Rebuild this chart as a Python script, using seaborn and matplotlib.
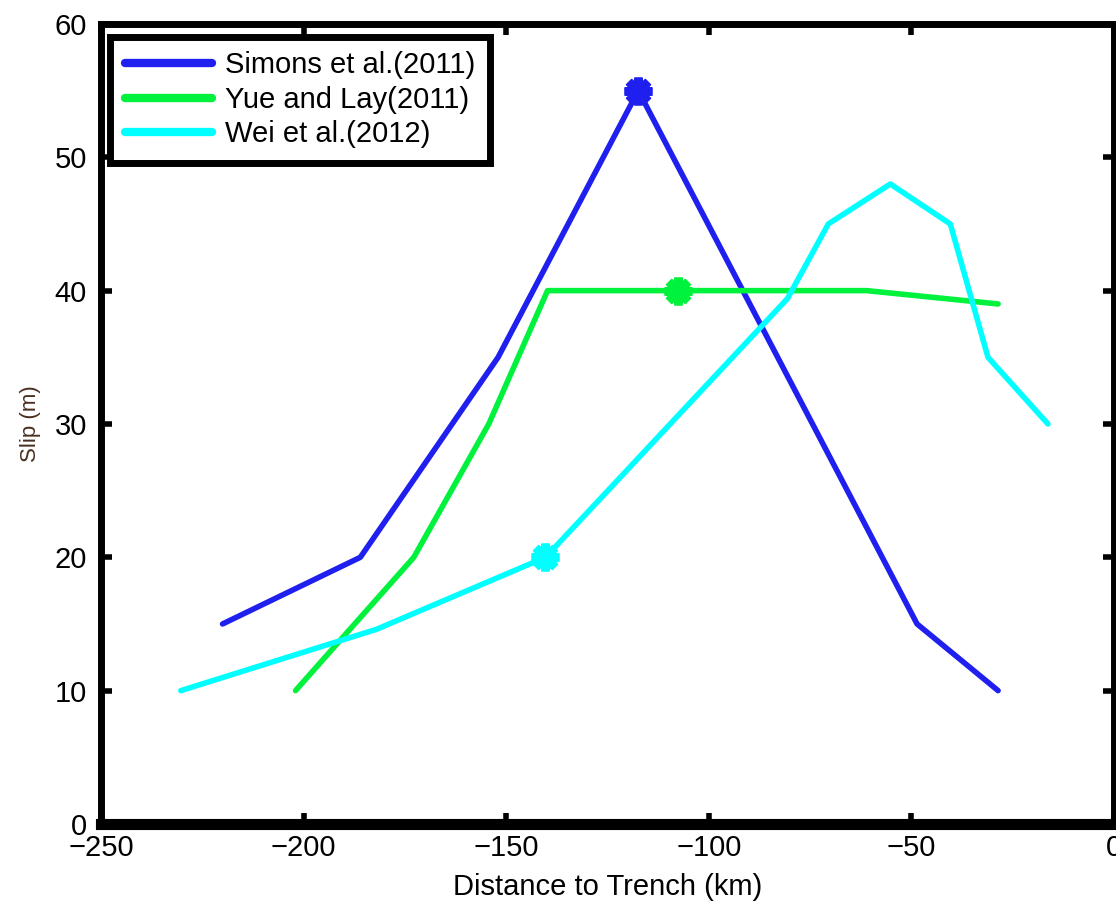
import matplotlib
matplotlib.use("Agg")
import matplotlib.pyplot as plt
import seaborn as sns

# %% data
simons_x = [-220, -186, -152, -117.4, -48.6, -28.6]
simons_y = [15, 20, 35, 55, 15, 10]

yue_x = [-202, -172.8, -154.3, -139.8, -107.5, -61, -28.6]
yue_y = [10, 20, 30, 40, 40, 40, 39]

wei_x = [-230.3, -182, -140.3, -80.6, -70.5, -55.2, -40.4, -31.1, -16.3]
wei_y = [10, 14.6, 20, 39.4, 45, 48, 45, 35, 30]

labels = ["Simons et al.(2011)", "Yue and Lay(2011)", "Wei et al.(2012)"]
colors = ["#1f1ff0", "#00f23c", "#00ffff"]

# marked points on each model
mark_x = [-117.4, -107.5, -140.3]
mark_y = [55, 40, 20]

x_ticks = [-250, -200, -150, -100, -50, 0]
y_ticks = [0, 10, 20, 30, 40, 50, 60]

# %% style
sns.set_style("ticks")
plt.rcParams["font.family"] = ["Liberation Sans", "DejaVu Sans"]
plt.rcParams["text.color"] = "black"
plt.rcParams["xtick.color"] = "black"
plt.rcParams["ytick.color"] = "black"
plt.rcParams["axes.labelcolor"] = "black"

fig = plt.figure(figsize=(11.16, 9.01), dpi=100)
ax = fig.add_axes([0.0905, 0.0855, 0.9077, 0.8879])

series = [(simons_x, simons_y), (yue_x, yue_y), (wei_x, wei_y)]
for (xs, ys), lab, col in zip(series, labels, colors):
    sns.lineplot(x=xs, y=ys, ax=ax, color=col, linewidth=4, sort=False,
                 estimator=None, label=lab)

for mx, my, col in zip(mark_x, mark_y, colors):
    ax.plot(mx, my, marker=(8, 2, 0), markersize=20, markeredgewidth=6,
            color=col, zorder=5)

ax.set_xlim(-250, 0)
ax.set_ylim(0, 60)
ax.set_xticks(x_ticks)
ax.set_yticks(y_ticks)
ax.set_xlabel("Distance to Trench (km)", fontsize=21, labelpad=8)
ax.set_ylabel("Slip (m)", fontsize=16, color="#4a2e1e", labelpad=10)

ax.tick_params(direction="in", length=8, width=4, labelsize=21,
               top=True, right=True, pad=7)
ax.tick_params(axis="y", pad=10)
for side, sp in ax.spines.items():
    sp.set_visible(True)
    sp.set_linewidth(5)
    sp.set_color("black")
ax.spines["bottom"].set_linewidth(8)

leg = ax.legend(loc="upper left", bbox_to_anchor=(0.009, 0.984),
                borderaxespad=0, fontsize=21, handlelength=3.0,
                handletextpad=0.45, labelspacing=0.22, borderpad=0.5,
                fancybox=False, framealpha=1, edgecolor="black")
leg.get_frame().set_linewidth(5)
for h in leg.get_lines():
    h.set_linewidth(6)

fig.savefig("out.png", dpi=100)
